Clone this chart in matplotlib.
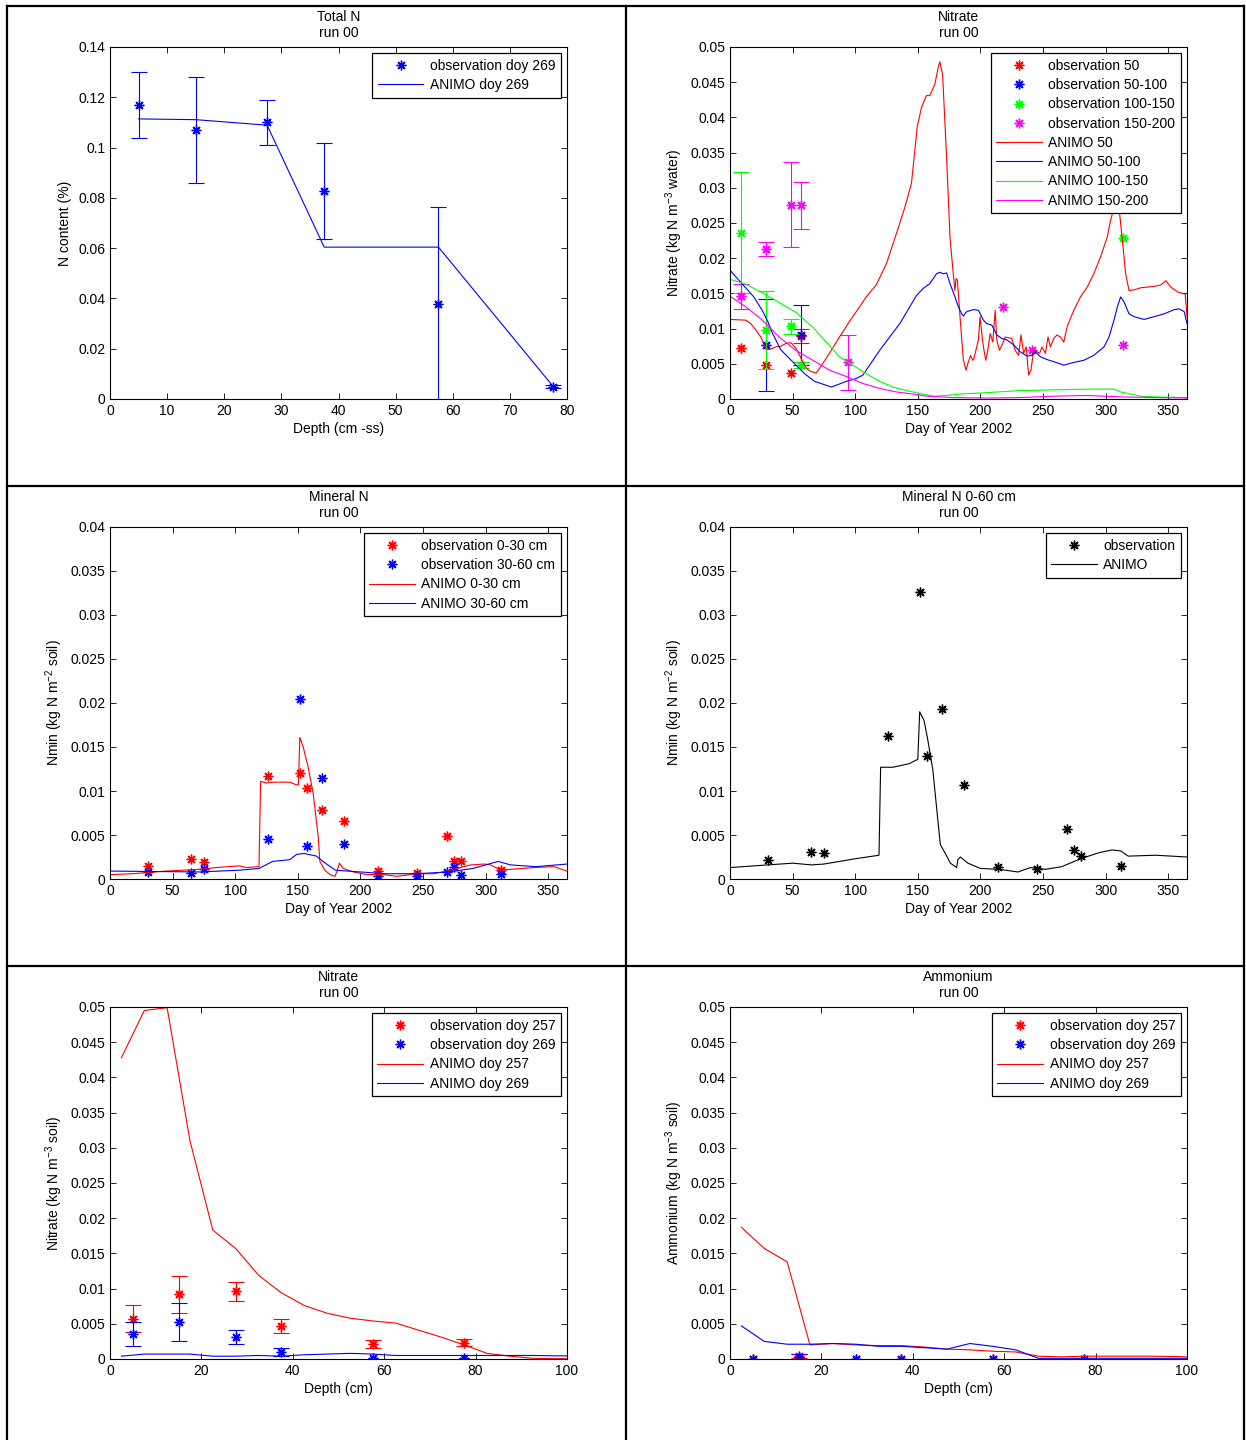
import numpy as np
import matplotlib
matplotlib.use('Agg')
import matplotlib.pyplot as plt
from matplotlib.lines import Line2D
from matplotlib.ticker import FuncFormatter

plt.rcParams['font.family'] = ['Liberation Sans', 'DejaVu Sans']
plt.rcParams['font.size'] = 10
plt.rcParams['mathtext.fontset'] = 'custom'
plt.rcParams['mathtext.rm'] = 'Liberation Sans'
plt.rcParams['mathtext.it'] = 'Liberation Sans:italic'

W, H = 1246, 1440
AST = (8, 2, 0)  # matlab asterisk

# ---- total N profile
totn_depth = [5, 15, 27.5, 37.5, 57.5, 77.5]
totn_obs = [0.1171, 0.107, 0.1101, 0.0829, 0.0379, 0.0049]
totn_err = [0.0131, 0.0211, 0.0090, 0.0191, 0.0385, 0.0006]
totn_model = [0.1114, 0.1111, 0.1089, 0.0604, 0.0604, 0.0052]

# ---- nitrate in water, observations
obs50_day = [9, 29, 49, 57]
obs50_val = [0.0073, 0.0048, 0.0037, 0.0089]
obs50_err = [0, 0, 0, 0.0010]
obs50_100_day = [29, 57]
obs50_100_val = [0.0077, 0.0091]
obs50_100_err = [0.0065, 0.0042]
obs100_150_day = [9, 29, 49, 57, 314]
obs100_150_val = [0.0236, 0.0098, 0.0103, 0.0048, 0.0229]
obs100_150_err = [0.0086, 0.0055, 0.0010, 0.0004, 0]
obs150_200_day = [9, 29, 49, 57, 94, 218, 241, 314]
obs150_200_val = [0.0146, 0.0213, 0.0276, 0.0275, 0.0052, 0.0131, 0.0070, 0.0077]
obs150_200_err = [0.0018, 0.0010, 0.0060, 0.0033, 0.0039, 0, 0, 0]

# ---- nitrate in water, ANIMO
an50_day = [0, 12.6, 16.6, 20.6, 24.6, 28.6, 31.3, 36.6, 40.6, 44.7,
            48.7, 52.7, 56.7, 61.2, 64.7, 68.7, 71.4, 79.4, 87.4, 95.4,
            103.5, 108.8, 116.8, 124.9, 132.9, 139.6, 144.9, 149.5, 152.9, 156.9,
            159.6, 163.6, 166.3, 167.6, 169.8, 173, 175.7, 178.3, 179.7, 180.5,
            181.6, 183.7, 186.4, 188.5, 190.4, 192.2, 193.9, 194.9, 198.4, 199.7,
            201.1, 202.4, 204.3, 205.9, 207.8, 209.9, 211.8, 213.1, 215.2, 217.6,
            219.8, 225.1, 227.8, 230.5, 232.4, 234.5, 236.6, 238.5, 240.4, 242.5,
            245.2, 247.3, 249.2, 251.9, 254, 255.9, 258.6, 261.2, 263.9, 266.6,
            269.3, 274.6, 279.9, 285.3, 290.6, 296, 301.3, 304, 306.7, 309.4,
            311.2, 313.4, 316, 318.7, 322.7, 328.1, 333.4, 338.8, 344.1, 348.1,
            352.1, 357.5, 361.5, 363.6, 365]
an50_val = [.0113, .0112, .0107, .0098, .0088, .0072, .0070, .0074, .0075, .0079,
            .0080, .0072, .0058, .0043, .0039, .0037, .0043, .0065, .0088, .0110,
            .0131, .0145, .0162, .0192, .0235, .0272, .0306, .0386, .0414, .0431,
            .0431, .0447, .0471, .0479, .0461, .0343, .0230, .0178, .0154, .0171,
            .0169, .0117, .0055, .0041, .0053, .0062, .0055, .0058, .0084, .0117,
            .0093, .0074, .0055, .0069, .0093, .0081, .0126, .0084, .0069, .0078,
            .0088, .0086, .0069, .0062, .0091, .0065, .0074, .0034, .0041, .0069,
            .0067, .0065, .0074, .0065, .0088, .0074, .0086, .0091, .0088, .0081,
            .0103, .0126, .0145, .0159, .0178, .0202, .0230, .0254, .0272, .0290,
            .0263, .0225, .0178, .0154, .0155, .0158, .0159, .0160, .0162, .0168,
            .0159, .0152, .0150, .0149, .0117]
an50_100_day = [0, 9.5, 19, 25.7, 29.7, 33.8, 40.5, 50, 59.5, 67.6,
                81, 92.8, 100.8, 106.1, 111.5, 119.5, 127.5, 135.6, 143.6, 148.9,
                154.3, 159.6, 165, 167.6, 170.3, 173, 175.7, 179.7, 182.4, 185,
                186.4, 189, 194.4, 198.4, 202.4, 205.1, 209.1, 213.1, 217.1, 221.1,
                226.5, 231.8, 237.2, 241.2, 243.9, 247.9, 253.2, 258.6, 266.6, 274.6,
                282.6, 290.6, 298.7, 302.7, 306.7, 309.4, 312, 314.7, 318.7, 322.7,
                330.7, 338.8, 346.8, 354.8, 358.8, 362.8, 365]
an50_100_val = [.0183, .0164, .0145, .0126, .0112, .0094, .0070, .0053, .0036, .0025,
                .0017, .0025, .0029, .0034, .0048, .0069, .0088, .0107, .0131, .0147,
                .0157, .0164, .0178, .0180, .0178, .0179, .0164, .0145, .0131, .0121,
                .0118, .0124, .0127, .0126, .0112, .0107, .0105, .0091, .0086, .0084,
                .0077, .0067, .0061, .0062, .0067, .0060, .0056, .0053, .0048, .0052,
                .0055, .0062, .0074, .0088, .0112, .0131, .0145, .0138, .0121, .0117,
                .0113, .0117, .0121, .0127, .0128, .0124, .0107]
an100_150_day = [0, 12.6, 25.9, 39.3, 52.7, 66.1, 76.7, 87.4, 98.1, 108.8,
                 119.5, 130.2, 140.9, 151.6, 162.3, 173, 183.7, 194.4, 205.1, 231.8,
                 258.6, 285.3, 306.7, 312, 320, 328.1, 338.8, 365]
an100_150_val = [.0170, .0163, .0151, .0137, .0123, .0102, .0081, .0060, .0048, .0036,
                 .0025, .0017, .0012, .0008, .0004, .0005, .0007, .0008, .0009, .0012,
                 .0013, .0014, .0014, .0010, .0007, .0004, .0003, .0002]
an150_200_day = [0, 12.6, 25.9, 39.3, 52.7, 66.1, 79.4, 92.8, 106.1, 119.5,
                 132.9, 146.3, 157, 167.6, 178.3, 205.1, 231.8, 258.6, 285.3, 312,
                 338.8, 365]
an150_200_val = [.0146, .0131, .0112, .0088, .0069, .0055, .0041, .0032, .0022, .0015,
                 .0010, .0007, .0004, .0003, .0002, .00014, .0002, .0004, .0005, .0003,
                 .0002, .00014]

# ---- mineral N
min_day = [30, 65, 75, 126, 152, 157, 169, 187, 214, 245, 269, 275, 280, 312]
min_obs_0_30 = [.0015, .0023, .0019, .0117, .0121, .0103, .0078, .0066, .0009, .0007,
                .0049, .0020, .0021, .0010]
min_obs_30_60 = [.0008, .0007, .0011, .0046, .0204, .0037, .0115, .0040, .0003, .0003,
                 .0008, .0014, .0005, .0006]
min_obs_0_60 = [.0022, .0031, .0029, .0163, .0326, .0140, .0193, .0107, .0014, .0011,
                .0057, .0033, .0026, .0015]

an0_30_day = [0, 17.9, 44.7, 71.4, 84.8, 103.5, 108.8, 119, 120.3, 124.9,
              130.2, 143.6, 148.9, 150.5, 151.6, 154.3, 158.3, 162.3, 166.3, 167.6,
              171.6, 175.7, 179.7, 181.6, 183.2, 186.4, 194.4, 205.1, 218.4, 229.1,
              245.2, 258.6, 269.3, 279.9, 288, 298.7, 304, 312, 320, 338.8,
              354.8, 365]
an0_30_val = [.0005, .0006, .0009, .0011, .0013, .0015, .0013, .0014, .0111, .0109,
              .0110, .0110, .0107, .0107, .0161, .0150, .0127, .0097, .0048, .0020,
              .0010, .0005, .0003, .0010, .0018, .0012, .0008, .0005, .0005, .0003,
              .0006, .0006, .0009, .0013, .0016, .0017, .0016, .0010, .0011, .0013,
              .0014, .0009]
an30_60_day = [0, 71.4, 103.5, 119, 130, 143.6, 149, 155, 165, 170,
               180, 200, 220, 245, 270, 290, 300, 310, 320, 340, 365]
an30_60_val = [.0009, .0008, .0010, .0012, .0020, .0022, .0028, .0029, .0026, .0020,
               .0010, .0008, .0006, .0006, .0008, .0012, .0016, .0020, .0016, .0014, .0017]
an0_60_day = [0, 50, 65, 75, 100, 119, 120.3, 130, 143, 150,
              151.5, 155, 158, 162, 166, 168, 172, 176, 181, 182,
              184, 190, 200, 215, 230, 240, 252, 265, 280, 295,
              305, 312, 318, 340, 365]
an0_60_val = [.0013, .0018, .0016, .0017, .0023, .0027, .0127, .0127, .0131, .0136,
              .0190, .0180, .0158, .0124, .0067, .0039, .0029, .0018, .0013, .0022,
              .0025, .0018, .0012, .0011, .0008, .0013, .0011, .0014, .0023, .0030,
              .0033, .0032, .0026, .0027, .0025]

# ---- soil profiles doy 257 / 269
prof_depth = [5, 15, 27.5, 37.5, 57.5, 77.5]
no3_257 = [.0057, .0092, .0096, .0047, .0021, .0023]
no3_257_err = [.0019, .0026, .0014, .0010, .0006, .0005]
no3_269 = [.0035, .0052, .0031, .0010, .0002, .0002]
no3_269_err = [.0017, .0027, .0010, .0006, 0, 0]
nh4_257 = [.00005, .0004, .00005, .00005, .00005, .00003]
nh4_257_err = [0, .0003, 0, 0, 0, 0]
nh4_269 = [.00005, .0003, .00005, .00005, .00005, .00003]
nh4_269_err = [0, .0004, 0, 0, 0, 0]

mod_depth = [2.5, 7.5, 12.5, 17.5, 22.5, 27.5, 32.5, 37.5, 42.5, 47.5,
             52.5, 57.5, 62.5, 67.5, 72.5, 77.5, 82.5, 87.5, 92.5, 97.5, 100]
no3_mod257 = [.0428, .0495, .0499, .0310, .0183, .0157, .0119, .0094, .0076, .0065,
              .0058, .0054, .0051, .0041, .0031, .0020, .0008, .0004, .0001, .00005, .00005]
no3_mod269 = [.0004, .0007, .0007, .0007, .0004, .0004, .0005, .0004, .0006, .0007,
              .0008, .0007, .0005, .0005, .0005, .0005, .0005, .0005, .0005, .00045, .00045]
nh4_mod257 = [.0187, .0157, .0138, .0020, .0022, .0020, .0019, .0019, .0017, .0014,
              .0013, .0011, .0010, .0004, .0003, .0004, .0004, .0004, .0004, .00035, .0003]
nh4_mod269 = [.0047, .0025, .0021, .0021, .0022, .0021, .0018, .0018, .0016, .0014,
              .0022, .0018, .0013, .0001, .0001, .0001, .0001, .0001, .0001, .0001, .0001]


def make_axes(fig, col, row):
    left = 110 if col == 0 else 730
    top = 47 + 480 * row
    return fig.add_axes([left / W, 1 - (top + 352) / H, 457 / W, 352 / H])


def style(ax, title, xlabel, ylabel, xlim, xticks, ymax, ystep):
    ax.set_xlim(*xlim)
    ax.set_ylim(0, ymax)
    ax.set_xticks(xticks)
    ax.set_yticks(np.arange(0, ymax + ystep / 2, ystep))
    ax.yaxis.set_major_formatter(FuncFormatter(lambda v, p: '%g' % round(v, 6)))
    ax.xaxis.set_major_formatter(FuncFormatter(lambda v, p: '%g' % round(v, 6)))
    ax.tick_params(direction='in', top=True, right=True, length=4, width=0.6,
                   labelsize=10)
    for s in ax.spines.values():
        s.set_linewidth(0.8)
    ax.set_title(title, fontsize=10, pad=7)
    ax.set_xlabel(xlabel, fontsize=10, labelpad=3)
    ax.set_ylabel(ylabel, fontsize=10)


def obs(ax, x, y, err, color, label):
    x = np.asarray(x, float)
    y = np.asarray(y, float)
    err = np.asarray(err, float)
    m = err > 0
    if m.any():
        ax.errorbar(x[m], y[m], yerr=err[m], fmt='none', ecolor=color,
                    elinewidth=0.8, capsize=5.5, capthick=0.8)
    ax.plot(x, y, linestyle='none', marker=AST, color=color, ms=7, mew=1.0,
            label=label)


def line(ax, x, y, color, label):
    ax.plot(x, y, color=color, lw=0.8, label=label)


def legend(ax):
    lg = ax.legend(loc='upper right', fontsize=10, handlelength=3.3,
                   handletextpad=0.45, labelspacing=0.38, borderpad=0.4,
                   borderaxespad=0.45, fancybox=False, framealpha=1,
                   edgecolor='k', numpoints=1)
    lg.get_frame().set_linewidth(0.9)


def border(fig, x0, y0, x1, y1):
    fig.add_artist(Line2D([x0 / W, x1 / W], [1 - y0 / H, 1 - y1 / H], color='k',
                          lw=1.6, transform=fig.transFigure))


fig = plt.figure(figsize=(W / 100, H / 100), dpi=100)
days = np.arange(0, 351, 50)

# total N
ax = make_axes(fig, 0, 0)
obs(ax, totn_depth, totn_obs, totn_err, 'b', 'observation doy 269')
line(ax, totn_depth, totn_model, 'b', 'ANIMO doy 269')
style(ax, 'Total N\nrun 00', 'Depth (cm -ss)', 'N content (%)',
      (0, 80), np.arange(0, 81, 10), 0.14, 0.02)
legend(ax)

# nitrate in water
ax = make_axes(fig, 1, 0)
obs(ax, obs50_day, obs50_val, obs50_err, 'r', 'observation 50')
obs(ax, obs50_100_day, obs50_100_val, obs50_100_err, 'b', 'observation 50-100')
obs(ax, obs100_150_day, obs100_150_val, obs100_150_err, 'lime', 'observation 100-150')
obs(ax, obs150_200_day, obs150_200_val, obs150_200_err, 'magenta', 'observation 150-200')
line(ax, an50_day, an50_val, 'r', 'ANIMO 50')
line(ax, an50_100_day, an50_100_val, 'b', 'ANIMO 50-100')
line(ax, an100_150_day, an100_150_val, 'lime', 'ANIMO 100-150')
line(ax, an150_200_day, an150_200_val, 'magenta', 'ANIMO 150-200')
style(ax, 'Nitrate\nrun 00', 'Day of Year 2002', r'Nitrate (kg N m$^{-3}$ water)',
      (0, 365), days, 0.05, 0.005)
legend(ax)

# mineral N by layer
ax = make_axes(fig, 0, 1)
obs(ax, min_day, min_obs_0_30, [0] * len(min_day), 'r', 'observation 0-30 cm')
obs(ax, min_day, min_obs_30_60, [0] * len(min_day), 'b', 'observation 30-60 cm')
line(ax, an0_30_day, an0_30_val, 'r', 'ANIMO 0-30 cm')
line(ax, an30_60_day, an30_60_val, 'b', 'ANIMO 30-60 cm')
style(ax, 'Mineral N\nrun 00', 'Day of Year 2002', r'Nmin (kg N m$^{-2}$ soil)',
      (0, 365), days, 0.04, 0.005)
legend(ax)

# mineral N 0-60
ax = make_axes(fig, 1, 1)
obs(ax, min_day, min_obs_0_60, [0] * len(min_day), 'k', 'observation')
line(ax, an0_60_day, an0_60_val, 'k', 'ANIMO')
style(ax, 'Mineral N 0-60 cm\nrun 00', 'Day of Year 2002', r'Nmin (kg N m$^{-2}$ soil)',
      (0, 365), days, 0.04, 0.005)
legend(ax)

# nitrate profile
ax = make_axes(fig, 0, 2)
obs(ax, prof_depth, no3_257, no3_257_err, 'r', 'observation doy 257')
obs(ax, prof_depth, no3_269, no3_269_err, 'b', 'observation doy 269')
line(ax, mod_depth, no3_mod257, 'r', 'ANIMO doy 257')
line(ax, mod_depth, no3_mod269, 'b', 'ANIMO doy 269')
style(ax, 'Nitrate\nrun 00', 'Depth (cm)', r'Nitrate (kg N m$^{-3}$ soil)',
      (0, 100), np.arange(0, 101, 20), 0.05, 0.005)
legend(ax)

# ammonium profile
ax = make_axes(fig, 1, 2)
obs(ax, prof_depth, nh4_257, nh4_257_err, 'r', 'observation doy 257')
obs(ax, prof_depth, nh4_269, nh4_269_err, 'b', 'observation doy 269')
line(ax, mod_depth, nh4_mod257, 'r', 'ANIMO doy 257')
line(ax, mod_depth, nh4_mod269, 'b', 'ANIMO doy 269')
style(ax, 'Ammonium\nrun 00', 'Depth (cm)', r'Ammonium (kg N m$^{-3}$ soil)',
      (0, 100), np.arange(0, 101, 20), 0.05, 0.005)
legend(ax)

# table grid around the panels
for yy in [6, 486, 966]:
    border(fig, 7, yy, 1244, yy)
for xx in [7, 626, 1244]:
    border(fig, xx, 6, xx, 1440)

fig.savefig('out.png', dpi=100)
